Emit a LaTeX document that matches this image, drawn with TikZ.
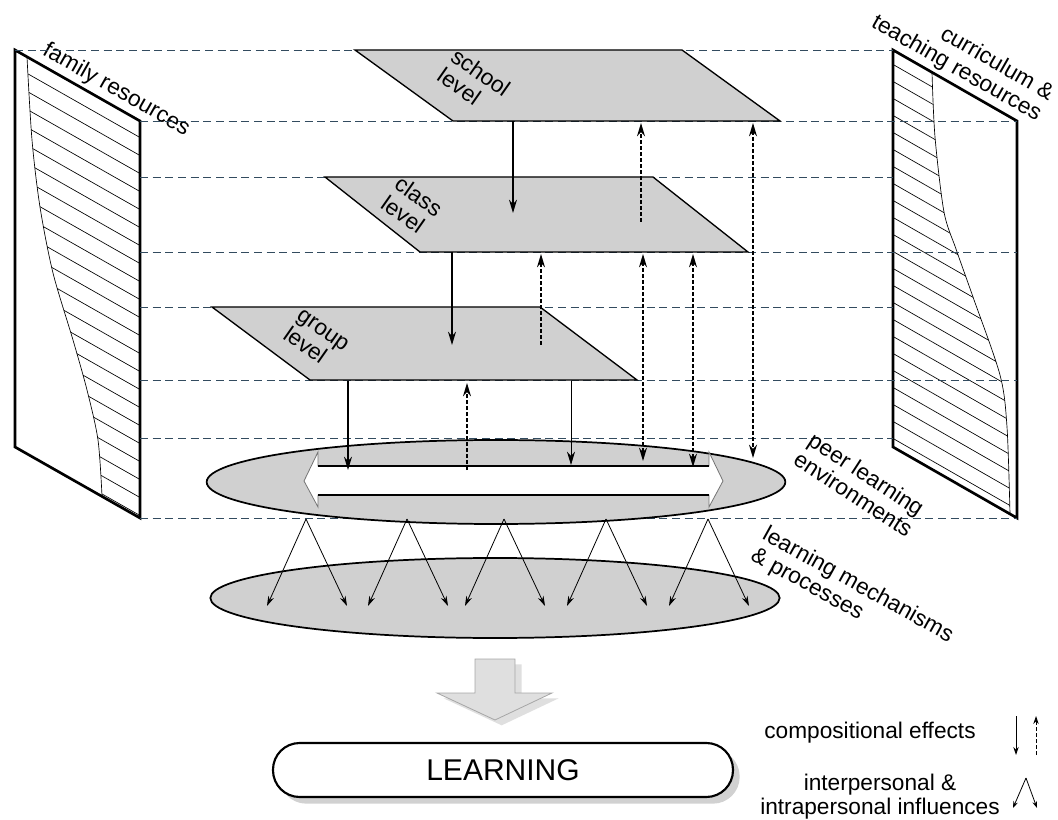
\documentclass[tikz,border=0pt]{standalone}
\usepackage{fontspec}
\setmainfont{Liberation Sans}
\usepackage{tikz}
\usetikzlibrary{arrows.meta,shapes.geometric,shadows,calc,positioning}
\definecolor{guidecol}{RGB}{50,75,95}

\begin{document}
\begin{tikzpicture}[x=0.75pt,y=-0.75pt,thick,>={Stealth[length=10pt,width=6pt]}]
    \tikzstyle{guide}=[draw=guidecol, dash pattern=on 6pt off 3.5pt, line width=0.7pt]
    \tikzstyle{panel}=[draw, line width=2pt, line join=miter]
    \tikzstyle{hatch}=[line width=0.5pt]
    \tikzstyle{plane}=[draw, fill=gray!37, line width=1pt]
    \tikzstyle{lab}=[font=\fontsize{17}{18}\selectfont, inner sep=1pt]
    \tikzstyle{down}=[->, line width=0.9pt]
    \tikzstyle{up}=[->, line width=0.9pt, dash pattern=on 3pt off 1.5pt]
    \tikzstyle{updown}=[<->, line width=0.9pt, dash pattern=on 3pt off 1.5pt]
    \tikzstyle{infl}=[->, line width=0.6pt, >={Stealth[length=7.5pt,width=4.5pt]}]
    \tikzstyle{oval}=[ellipse, draw, fill=gray!37, line width=1.3pt]

    \useasboundingbox (0,0) rectangle (1058,820);

    % side panels
    \begin{scope}
      \clip plot[smooth] coordinates {(27,57) (32,140) (40,207) (53,273) (73,340) (87,390) (98,440) (102,496)} -- (140,518) -- (140,121) -- cycle;
      \foreach \k in {0,...,23} \draw[hatch] (0,{40+18*\k}) -- (160,{40+18*\k+0.568*160});
    \end{scope}
    \draw[hatch] plot[smooth] coordinates {(27,57) (32,140) (40,207) (53,273) (73,340) (87,390) (98,440) (102,496)};
    \draw[panel] (15,50) -- (140,121) -- (140,518) -- (15,447) -- cycle;
    \path (15,50) -- (140,121) node[lab, pos=0.75, sloped, above=2pt] (fam) {family resources};

    \begin{scope}
      \clip (893,50) -- plot[smooth] coordinates {(932,72) (935,137) (944,212) (956,249) (973,297) (1000,375) (1007,427) (1010,514)} -- (893,447) -- cycle;
      \foreach \k in {0,...,25} \draw[hatch] (880,{40+17*\k}) -- (1020,{40+17*\k+0.573*140});
    \end{scope}
    \draw[hatch] plot[smooth] coordinates {(932,72) (935,137) (944,212) (956,249) (973,297) (1000,375) (1007,427) (1010,514)};
    \draw[panel] (893,50) -- (1017,121) -- (1017,518) -- (893,447) -- cycle;
    \path (893,50) -- (1017,121) node[lab, pos=0.45, sloped, above=2pt, align=right] (cur) {curriculum \&\\teaching resources};

    % levels
    \foreach \y/\xa/\xb in {50/15/893, 121/140/1017, 177/140/893, 252/140/1017, 307/140/893, 380/140/1017, 438/140/893, 518/140/1017}
      \draw[guide] (\xa,\y) -- (\xb,\y);

    \draw[plane] (355,50) -- (682,50) -- (780,121) -- (453,121) -- cycle;
    \node[lab, rotate=-35, align=left] (school) at (474,82) {school\\level};
    \draw[plane] (325,177) -- (653,177) -- (748,252) -- (420,252) -- cycle;
    \node[lab, rotate=-35, align=left] (class) at (412,206) {class\\level};
    \draw[plane] (212,307) -- (540,307) -- (637,380) -- (310,380) -- cycle;
    \node[lab, rotate=-35, align=left] (group) at (316,340) {group\\level};

    \node[oval, minimum width=434pt, minimum height=63pt] (peer) at (496,482) {};
    \draw[fill=white, draw=black!55, line width=0.6pt] (318,466) -- (709,466) -- (709,452) -- (723,481) -- (709,507) -- (709,495) -- (318,495) -- (318,507) -- (304,481) -- (318,452) -- cycle;
    \draw[line width=0.9pt] (318,466) -- (709,466) (318,495) -- (709,495);
    \node[lab, rotate=-33, align=center] (env) at (860,484) {peer learning\\environments};

    \node[oval, minimum width=427pt, minimum height=60pt] (mech) at (495,598) {};
    \node[lab, rotate=-29, align=left] (proc) at (852,596) {learning mechanisms\\\& processes};

    % compositional effects
    \foreach \x/\ya/\yb [count=\i] in {513/121/213, 452/252/345, 348/381/470} {
      \coordinate (da\i) at (\x,\ya);
      \coordinate (db\i) at (\x,\yb);
      \draw[down] (da\i) -- (db\i);
    }
    \coordinate (da4) at (571,381);
    \coordinate (db4) at (571,465);
    \draw[down, line width=0.6pt] (da4) -- (db4);
    \foreach \x/\ya/\yb [count=\i] in {641/222/123, 541/345/254, 467/470/383} {
      \coordinate (ua\i) at (\x,\ya);
      \coordinate (ub\i) at (\x,\yb);
      \draw[up] (ua\i) -- (ub\i);
    }
    \foreach \x/\ya/\yb [count=\i] in {753/123/458, 643/254/461, 693/254/467} {
      \coordinate (ba\i) at (\x,\ya);
      \coordinate (bb\i) at (\x,\yb);
      \draw[updown] (ba\i) -- (bb\i);
    }

    % influences
    \foreach \x [count=\i] in {306,407,504,606,708} {
      \coordinate (v\i) at (\x,519);
      \coordinate (vl\i) at ({\x-39},606);
      \coordinate (vr\i) at ({\x+41},606);
      \draw[infl] (v\i) -- (vl\i);
      \draw[infl] (v\i) -- (vr\i);
    }

    % outcome
    \draw[fill=gray!25, draw=gray!70, line width=0.6pt, drop shadow={shadow xshift=5pt, shadow yshift=-4pt, fill=gray!50, opacity=0.5}]
      (475,659) -- (515,659) -- (515,693) -- (552,693) -- (495,720) -- (437,693) -- (475,693) -- cycle;
    \node[draw, fill=white, line width=1.6pt, rounded corners=20pt, minimum width=345pt, minimum height=40.5pt,
          font=\fontsize{22.5}{24}\selectfont, drop shadow={shadow xshift=5pt, shadow yshift=-5pt, fill=gray!60, opacity=0.6}] (learn) at (503,770) {LEARNING};

    % legend
    \node[lab] (comp) at (870,733) {compositional effects};
    \coordinate (la) at (1016,716);
    \coordinate (lb) at (1016,755);
    \draw[down, line width=0.7pt, >={Stealth[length=6pt,width=4pt]}] (la) -- (lb);
    \coordinate (lc) at (1036,755);
    \coordinate (ld) at (1036,716);
    \draw[up, line width=0.7pt, >={Stealth[length=6pt,width=4pt]}] (lc) -- (ld);
    \node[lab, align=center] (inter) at (880,797) {interpersonal \&\\intrapersonal influences};
    \coordinate (lv) at (1026,778);
    \coordinate (lvl) at (1013,808);
    \coordinate (lvr) at (1037,808);
    \draw[infl, >={Stealth[length=5pt,width=3.5pt]}] (lv) -- (lvl);
    \draw[infl, >={Stealth[length=5pt,width=3.5pt]}] (lv) -- (lvr);

\end{tikzpicture}
\end{document}
